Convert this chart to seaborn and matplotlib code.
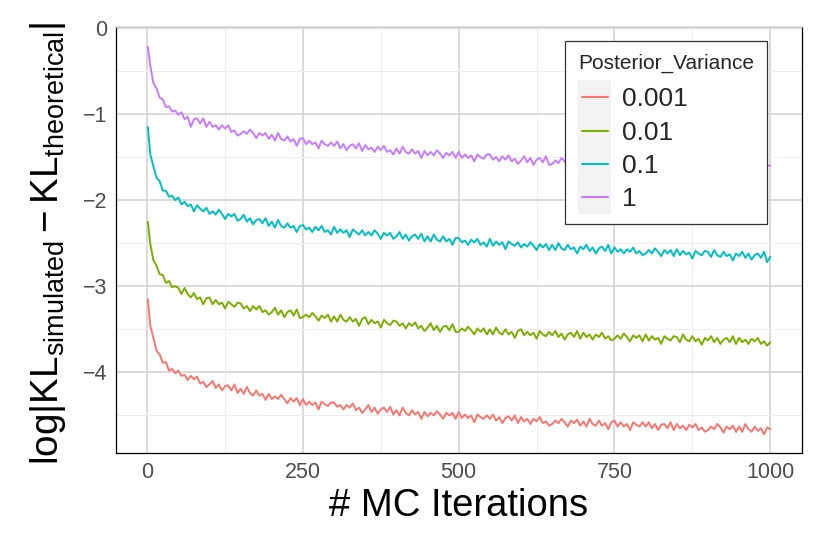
import matplotlib
matplotlib.use("Agg")
import matplotlib.pyplot as plt
import seaborn as sns
import pandas as pd
from matplotlib.legend_handler import HandlerBase
from matplotlib.patches import Rectangle
from matplotlib.lines import Line2D
from matplotlib.ticker import MultipleLocator

# ---------------- data ----------------
iterations = [1] + list(range(5, 1001, 5))

var_0001 = [
    -3.15, -3.46, -3.60, -3.75, -3.79, -3.89, -3.88, -3.98, -3.96, -4.01,
    -3.98, -4.04, -4.03, -4.09, -4.04, -4.08, -4.05, -4.13, -4.11, -4.17,
    -4.14, -4.10, -4.18, -4.14, -4.21, -4.16, -4.15, -4.21, -4.14, -4.24,
    -4.19, -4.25, -4.17, -4.24, -4.27, -4.21, -4.27, -4.25, -4.32, -4.25,
    -4.31, -4.28, -4.31, -4.26, -4.31, -4.36, -4.30, -4.34, -4.30, -4.38,
    -4.31, -4.38, -4.34, -4.38, -4.35, -4.43, -4.34, -4.37, -4.39, -4.35,
    -4.35, -4.40, -4.38, -4.43, -4.38, -4.41, -4.36, -4.44, -4.41, -4.47,
    -4.43, -4.38, -4.46, -4.41, -4.48, -4.43, -4.41, -4.46, -4.40, -4.49,
    -4.44, -4.50, -4.41, -4.47, -4.50, -4.44, -4.49, -4.46, -4.54, -4.46,
    -4.51, -4.47, -4.50, -4.45, -4.49, -4.54, -4.47, -4.50, -4.47, -4.54,
    -4.46, -4.53, -4.49, -4.53, -4.50, -4.58, -4.49, -4.52, -4.54, -4.50,
    -4.54, -4.49, -4.56, -4.52, -4.59, -4.53, -4.51, -4.56, -4.50, -4.59,
    -4.52, -4.57, -4.54, -4.60, -4.54, -4.57, -4.52, -4.59, -4.57, -4.62,
    -4.60, -4.56, -4.59, -4.54, -4.58, -4.63, -4.56, -4.59, -4.55, -4.62,
    -4.57, -4.63, -4.54, -4.60, -4.62, -4.56, -4.62, -4.59, -4.66, -4.58,
    -4.56, -4.63, -4.58, -4.63, -4.60, -4.67, -4.58, -4.61, -4.63, -4.58,
    -4.63, -4.58, -4.65, -4.60, -4.67, -4.61, -4.60, -4.65, -4.58, -4.67,
    -4.60, -4.65, -4.62, -4.67, -4.61, -4.64, -4.60, -4.67, -4.64, -4.69,
    -4.67, -4.63, -4.66, -4.60, -4.64, -4.70, -4.63, -4.66, -4.62, -4.69,
    -4.63, -4.69, -4.60, -4.66, -4.69, -4.63, -4.68, -4.65, -4.72, -4.64,
    -4.66,
]

var_001 = [
    -2.25, -2.51, -2.70, -2.76, -2.86, -2.87, -2.96, -2.94, -3.01, -3.00,
    -3.02, -3.09, -3.02, -3.09, -3.13, -3.08, -3.15, -3.13, -3.21, -3.14,
    -3.13, -3.21, -3.16, -3.21, -3.19, -3.26, -3.18, -3.21, -3.24, -3.19,
    -3.20, -3.26, -3.23, -3.29, -3.23, -3.27, -3.23, -3.30, -3.28, -3.33,
    -3.30, -3.25, -3.33, -3.28, -3.36, -3.30, -3.28, -3.34, -3.27, -3.37,
    -3.36, -3.33, -3.36, -3.31, -3.35, -3.40, -3.34, -3.37, -3.33, -3.41,
    -3.35, -3.41, -3.33, -3.39, -3.41, -3.36, -3.41, -3.38, -3.46, -3.38,
    -3.36, -3.44, -3.39, -3.43, -3.41, -3.48, -3.39, -3.43, -3.45, -3.40,
    -3.41, -3.46, -3.43, -3.49, -3.43, -3.46, -3.42, -3.49, -3.46, -3.52,
    -3.48, -3.43, -3.51, -3.46, -3.53, -3.47, -3.46, -3.51, -3.44, -3.53,
    -3.53, -3.49, -3.52, -3.47, -3.51, -3.56, -3.49, -3.53, -3.49, -3.56,
    -3.50, -3.56, -3.48, -3.54, -3.56, -3.50, -3.56, -3.53, -3.60, -3.52,
    -3.50, -3.57, -3.53, -3.57, -3.54, -3.61, -3.52, -3.56, -3.58, -3.53,
    -3.57, -3.52, -3.59, -3.55, -3.62, -3.56, -3.54, -3.59, -3.52, -3.61,
    -3.54, -3.59, -3.56, -3.62, -3.56, -3.59, -3.54, -3.61, -3.58, -3.63,
    -3.61, -3.57, -3.61, -3.55, -3.59, -3.64, -3.57, -3.60, -3.57, -3.64,
    -3.56, -3.63, -3.58, -3.62, -3.60, -3.67, -3.58, -3.61, -3.63, -3.58,
    -3.59, -3.65, -3.56, -3.62, -3.64, -3.58, -3.64, -3.61, -3.68, -3.60,
    -3.63, -3.58, -3.65, -3.60, -3.67, -3.62, -3.60, -3.65, -3.58, -3.67,
    -3.60, -3.65, -3.62, -3.67, -3.61, -3.64, -3.60, -3.67, -3.64, -3.69,
    -3.65,
]

var_01 = [
    -1.15, -1.47, -1.61, -1.74, -1.78, -1.89, -1.89, -1.96, -1.95, -2.00,
    -1.97, -2.05, -2.02, -2.07, -2.05, -2.13, -2.06, -2.10, -2.13, -2.09,
    -2.16, -2.13, -2.17, -2.11, -2.16, -2.22, -2.16, -2.19, -2.16, -2.24,
    -2.22, -2.17, -2.25, -2.21, -2.28, -2.23, -2.22, -2.27, -2.21, -2.30,
    -2.25, -2.32, -2.23, -2.30, -2.32, -2.27, -2.32, -2.30, -2.37, -2.30,
    -2.29, -2.34, -2.32, -2.37, -2.31, -2.35, -2.30, -2.37, -2.35, -2.40,
    -2.31, -2.38, -2.34, -2.38, -2.35, -2.43, -2.34, -2.37, -2.40, -2.35,
    -2.41, -2.37, -2.41, -2.35, -2.39, -2.45, -2.38, -2.41, -2.38, -2.45,
    -2.42, -2.37, -2.45, -2.40, -2.47, -2.42, -2.40, -2.45, -2.39, -2.48,
    -2.42, -2.48, -2.40, -2.46, -2.48, -2.42, -2.48, -2.45, -2.52, -2.44,
    -2.44, -2.49, -2.47, -2.52, -2.46, -2.49, -2.45, -2.52, -2.49, -2.54,
    -2.45, -2.53, -2.48, -2.52, -2.49, -2.57, -2.48, -2.51, -2.53, -2.49,
    -2.55, -2.51, -2.54, -2.49, -2.53, -2.58, -2.51, -2.55, -2.51, -2.58,
    -2.52, -2.58, -2.50, -2.56, -2.58, -2.52, -2.57, -2.55, -2.62, -2.54,
    -2.57, -2.52, -2.59, -2.55, -2.62, -2.56, -2.54, -2.59, -2.52, -2.62,
    -2.55, -2.60, -2.57, -2.62, -2.57, -2.60, -2.55, -2.62, -2.59, -2.64,
    -2.62, -2.58, -2.62, -2.56, -2.60, -2.65, -2.58, -2.62, -2.58, -2.65,
    -2.57, -2.64, -2.59, -2.63, -2.61, -2.68, -2.59, -2.62, -2.64, -2.59,
    -2.60, -2.66, -2.58, -2.64, -2.66, -2.60, -2.65, -2.63, -2.70, -2.62,
    -2.65, -2.60, -2.67, -2.62, -2.69, -2.64, -2.62, -2.67, -2.60, -2.72,
    -2.66,
]

var_1 = [
    -0.22, -0.44, -0.64, -0.70, -0.81, -0.83, -0.92, -0.91, -0.97, -0.96,
    -1.01, -0.98, -1.06, -1.03, -1.15, -1.06, -1.05, -1.11, -1.05, -1.15,
    -1.09, -1.15, -1.13, -1.18, -1.13, -1.17, -1.13, -1.21, -1.19, -1.25,
    -1.23, -1.20, -1.23, -1.18, -1.22, -1.28, -1.22, -1.25, -1.22, -1.29,
    -1.24, -1.31, -1.22, -1.29, -1.31, -1.26, -1.32, -1.29, -1.37, -1.29,
    -1.28, -1.35, -1.31, -1.35, -1.33, -1.40, -1.31, -1.35, -1.37, -1.33,
    -1.37, -1.32, -1.40, -1.35, -1.42, -1.37, -1.35, -1.40, -1.34, -1.43,
    -1.36, -1.41, -1.39, -1.44, -1.38, -1.42, -1.37, -1.44, -1.42, -1.47,
    -1.40, -1.46, -1.38, -1.44, -1.46, -1.41, -1.46, -1.43, -1.51, -1.43,
    -1.48, -1.44, -1.48, -1.42, -1.46, -1.51, -1.45, -1.48, -1.44, -1.51,
    -1.44, -1.51, -1.47, -1.51, -1.48, -1.55, -1.47, -1.50, -1.52, -1.47,
    -1.47, -1.53, -1.50, -1.55, -1.49, -1.53, -1.48, -1.55, -1.52, -1.58,
    -1.54, -1.49, -1.56, -1.51, -1.59, -1.53, -1.51, -1.56, -1.49, -1.59,
    -1.58, -1.54, -1.57, -1.51, -1.55, -1.61, -1.54, -1.57, -1.53, -1.60,
    -1.54, -1.60, -1.51, -1.57, -1.59, -1.53, -1.59, -1.56, -1.63, -1.55,
    -1.53, -1.60, -1.55, -1.59, -1.57, -1.64, -1.55, -1.58, -1.60, -1.55,
    -1.55, -1.60, -1.57, -1.62, -1.56, -1.59, -1.55, -1.62, -1.59, -1.64,
    -1.60, -1.55, -1.62, -1.57, -1.64, -1.59, -1.57, -1.62, -1.55, -1.64,
    -1.63, -1.59, -1.62, -1.56, -1.60, -1.66, -1.59, -1.62, -1.58, -1.65,
    -1.59, -1.65, -1.56, -1.62, -1.65, -1.59, -1.64, -1.61, -1.68, -1.60,
    -1.60,
]

series_labels = ["0.001", "0.01", "0.1", "1"]
series_colors = ["#F8766D", "#7CAE00", "#00BFC4", "#C77CFF"]
x_ticks = [0, 250, 500, 750, 1000]
y_ticks = [0, -1, -2, -3, -4]

rows = []
for lab, vals in zip(series_labels, [var_0001, var_001, var_01, var_1]):
    for it, v in zip(iterations, vals):
        rows.append({"iter": it, "value": v, "Posterior_Variance": lab})
df = pd.DataFrame(rows)

# ---------------- style ----------------
sns.set_theme(style="white")
plt.rcParams["font.family"] = ["Liberation Sans", "DejaVu Sans"]
plt.rcParams["mathtext.fontset"] = "custom"
plt.rcParams["mathtext.rm"] = "Liberation Sans"
plt.rcParams["mathtext.it"] = "Liberation Sans:italic"
plt.rcParams["mathtext.bf"] = "Liberation Sans:bold"

fig = plt.figure(figsize=(8.3, 5.54), dpi=100)
ax = fig.add_axes([0.1398, 0.1818, 0.8265, 0.7686])

sns.lineplot(data=df, x="iter", y="value", hue="Posterior_Variance",
             hue_order=series_labels, palette=series_colors,
             errorbar=None, linewidth=1.4, ax=ax, legend=False, zorder=3)

ax.set_xlim(-50, 1051)
ax.set_ylim(-4.94, 0.005)
ax.set_xticks(x_ticks)
ax.set_yticks(y_ticks)
ax.xaxis.set_minor_locator(MultipleLocator(125))
ax.yaxis.set_minor_locator(MultipleLocator(0.5))
ax.grid(which="major", color="#d4d4d4", linewidth=1.2, zorder=0)
ax.grid(which="minor", color="#eeeeee", linewidth=0.7, zorder=0)
ax.set_axisbelow(True)
ax.tick_params(which="major", direction="out", length=3.2, width=0.8,
               color="#333333", labelsize=15.5, labelcolor="#4D4D4D", pad=3)
ax.tick_params(which="minor", length=0)

for side in ["left", "bottom", "right"]:
    ax.spines[side].set_color("black")
    ax.spines[side].set_linewidth(0.9)
ax.spines["top"].set_color("#d4d4d4")
ax.spines["top"].set_linewidth(1.2)

ax.set_xlabel("# MC Iterations", fontsize=27.5, color="black", labelpad=4)
ax.set_ylabel(r"$\log|\mathrm{KL}_{\mathrm{simulated}} - \mathrm{KL}_{\mathrm{theoretical}}|$",
              fontsize=27.8, color="black", labelpad=11)
ax.yaxis.label.set_y(0.492)

LABEL_SPACING = 0.28


class KeyHandler(HandlerBase):
    def create_artists(self, legend, orig_handle, xdescent, ydescent,
                       width, height, fontsize, trans):
        ext = LABEL_SPACING * fontsize / 2 + 1.2
        rect = Rectangle((-xdescent, -ydescent - ext), width, height + 2 * ext,
                         facecolor="#f2f2f2", edgecolor="none", transform=trans)
        y = -ydescent + height / 2
        line = Line2D([-xdescent + 0.1 * width, -xdescent + 0.9 * width], [y, y],
                      color=orig_handle.get_color(), linewidth=1.5, transform=trans)
        return [rect, line]


handles = [Line2D([], [], color=c) for c in series_colors]
leg = ax.legend(handles, series_labels, handler_map={Line2D: KeyHandler()},
                title="Posterior_Variance", title_fontsize=15, fontsize=19,
                loc="upper left", bbox_to_anchor=(0.6545, 0.969), borderaxespad=0,
                frameon=True, fancybox=False, framealpha=1, edgecolor="#333333",
                borderpad=0.5, labelspacing=LABEL_SPACING, handlelength=1.25,
                handleheight=1.0, handletextpad=0.4, alignment="left")
leg.get_frame().set_linewidth(0.9)
leg._legend_box.sep = 9
leg.set_zorder(5)

fig.savefig("out.png", dpi=100)
